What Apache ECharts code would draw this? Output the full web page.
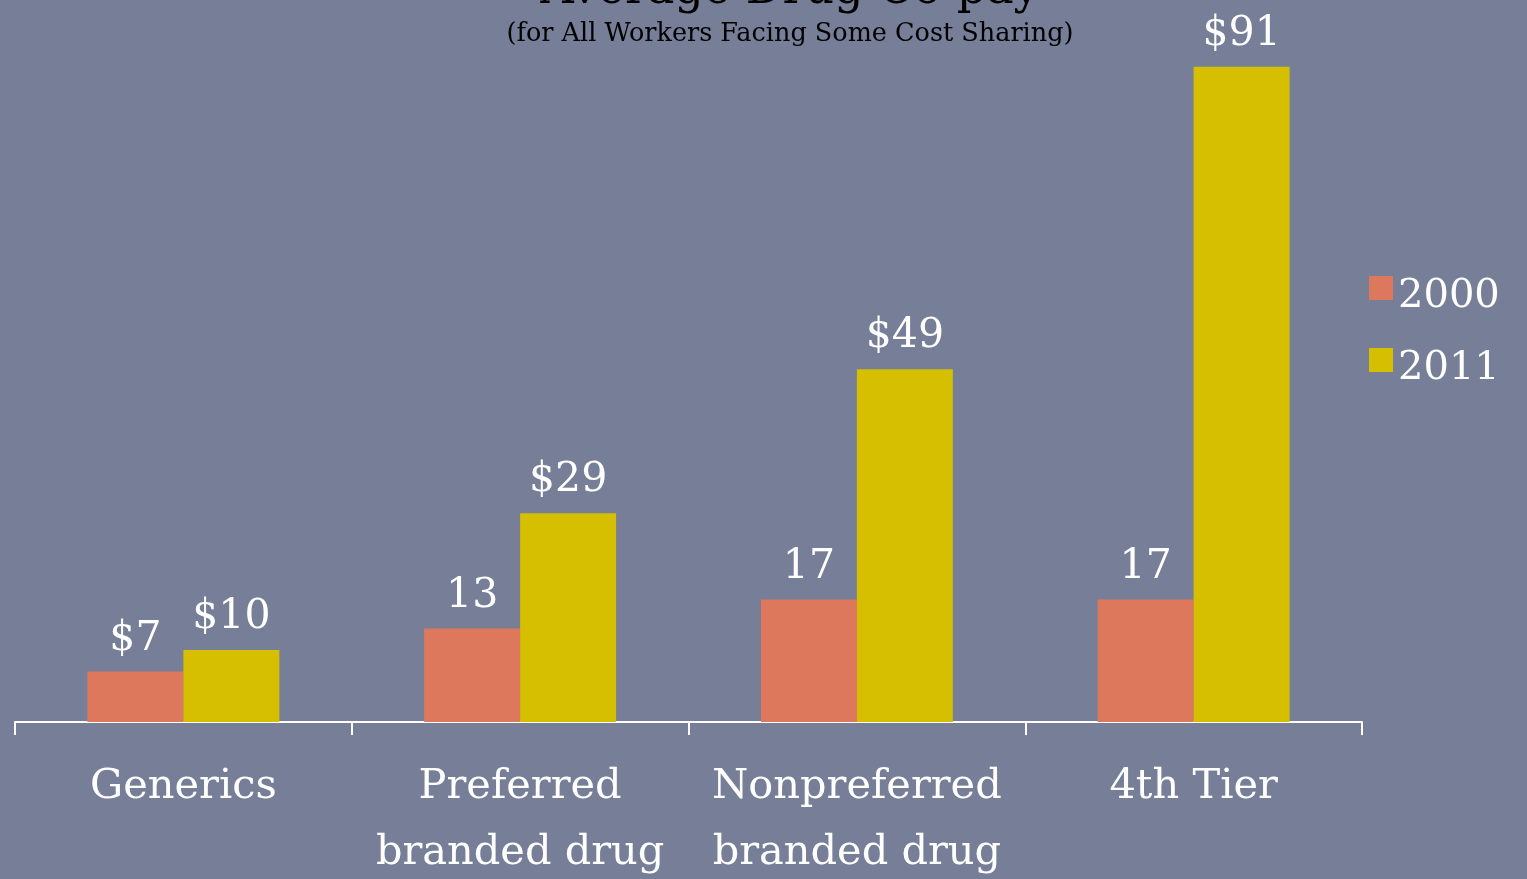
<!DOCTYPE html>
<html><head><meta charset="utf-8">
<script src="https://cdn.jsdelivr.net/npm/echarts@6/dist/echarts.min.js"></script>
<style>html,body{margin:0;padding:0;background:#767E98;}#c{width:1527px;height:879px;}</style>
</head><body><div id="c"></div>
<script>
const categories = ['Generics', 'Preferred\nbranded drug', 'Nonpreferred\nbranded drug', '4th Tier'];
const values2000 = [7, 13, 17, 17];
const labels2000 = ['$7', '13', '17', '17'];
const values2011 = [10, 29, 49, 91];
const labels2011 = ['$10', '$29', '$49', '$91'];
const seriesNames = ['2000', '2011'];

const FONT = '"DejaVu Serif", "Liberation Serif", serif';
const chart = echarts.init(document.getElementById('c'));
chart.setOption({
  backgroundColor: '#767E98',
  animation: false,
  title: {
    text: 'Average Drug Co-pay',
    subtext: '(for All Workers Facing Some Cost Sharing)',
    left: 790, textAlign: 'center', top: -32, itemGap: 7, padding: 0,
    textStyle: {fontFamily: FONT, fontSize: 46, color: '#000', fontWeight: 'normal'},
    subtextStyle: {fontFamily: FONT, fontSize: 25.5, color: '#000'}
  },
  legend: {
    orient: 'vertical', left: 1369, top: 259, itemWidth: 24, itemHeight: 24, itemGap: 14, padding: 0,
    icon: 'rect',
    formatter: name => '{a|' + name + '}',
    textStyle: {fontFamily: FONT, fontSize: 40, color: '#fff',
      rich: {a: {fontFamily: FONT, fontSize: 40, color: '#fff', lineHeight: 40, padding: [18, 0, 0, 0]}}},
    data: seriesNames
  },
  grid: {left: 15, right: 165, top: 2, bottom: 157, outerBoundsMode: 'none', containLabel: false},
  xAxis: {
    type: 'category', data: categories,
    axisLine: {lineStyle: {color: '#fff', width: 2}},
    axisTick: {show: true, length: 13, lineStyle: {color: '#fff', width: 2}},
    axisLabel: {color: '#fff', fontFamily: FONT, fontSize: 41.5, lineHeight: 66, margin: 32, interval: 0}
  },
  yAxis: {type: 'value', min: 0, max: 100, show: false, splitLine: {show: false}},
  series: [
    {
      name: seriesNames[0], type: 'bar', data: values2000, barGap: '0%', barCategoryGap: '43%',
      itemStyle: {color: '#DD785C'},
      label: {show: true, position: 'top', distance: 12, color: '#fff', fontFamily: FONT, fontSize: 41,
        formatter: p => labels2000[p.dataIndex]}
    },
    {
      name: seriesNames[1], type: 'bar', data: values2011, barGap: '0%', barCategoryGap: '43%',
      itemStyle: {color: '#D5BF00'},
      label: {show: true, position: 'top', distance: 12, color: '#fff', fontFamily: FONT, fontSize: 41,
        formatter: p => labels2011[p.dataIndex]}
    }
  ]
});
</script></body></html>
